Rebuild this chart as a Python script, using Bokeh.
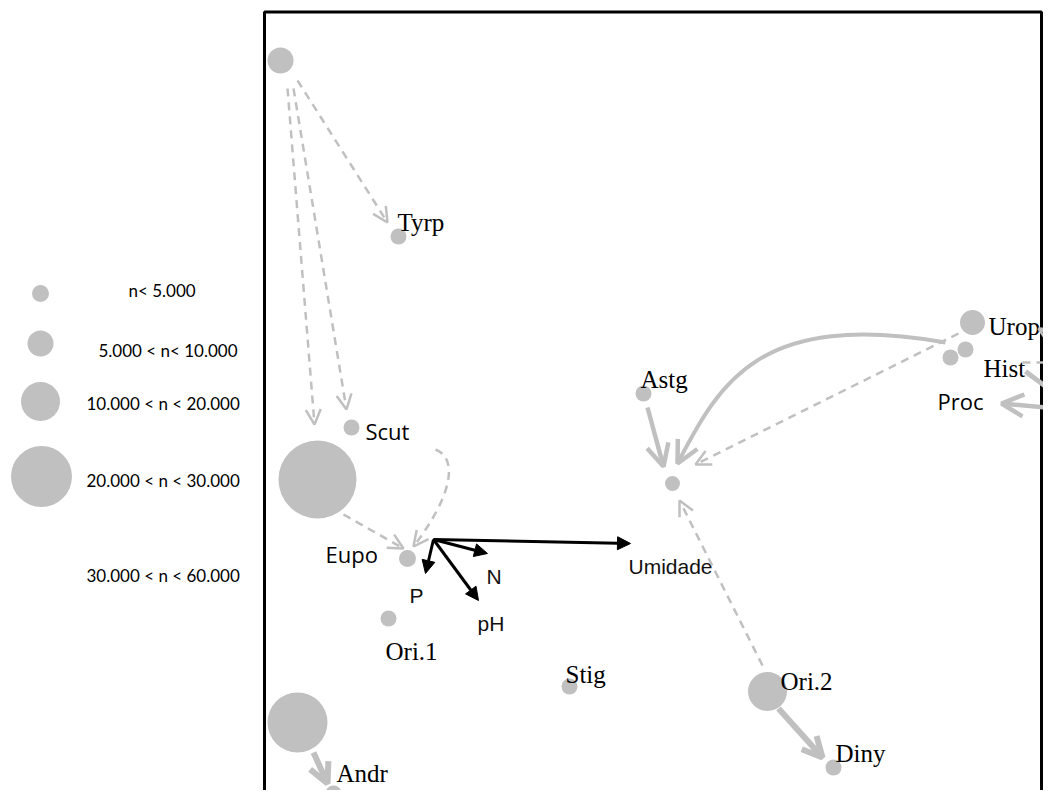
from bokeh.plotting import figure
from bokeh.models import Range1d, Arrow, OpenHead, NormalHead, ColumnDataSource
from bokeh.core.properties import value
from bokeh.embed import file_html
from bokeh.resources import INLINE

GRAY = "#c0c0c0"

# ---- community points (plot units, y grows downward) ----
pt_x = [280, 398, 351, 317, 407, 388, 569, 767, 833, 297, 333, 643, 672, 972, 950, 965]
pt_y = [60, 236, 427, 479, 558, 618, 686, 691, 767, 722, 793, 393, 483, 322, 357, 349]
pt_r = [13, 8, 8, 39, 8.5, 8, 8, 19.5, 8, 30, 8, 8, 7.5, 12.5, 8, 8]

# ---- taxa labels ----
serif_lab = ["Tyrp", "Urop", "Hist", "Astg", "Ori.1", "Stig", "Ori.2", "Diny", "Andr"]
serif_x = [397, 988, 983, 640, 385, 565, 780, 835, 336]
serif_y = [222, 326, 368, 379, 651, 674, 681, 753, 773]
sans_lab = ["Scut", "Eupo", "Proc"]
sans_x = [365, 325, 937]
sans_y = [430, 553, 400]

# ---- environmental vectors ----
env_lab = ["Umidade", "N", "P", "pH"]
env_x0 = [433, 433, 433, 433]
env_y0 = [539, 539, 539, 539]
env_x1 = [630, 487, 425, 478]
env_y1 = [543, 553, 573, 600]
env_lx = [628, 486, 409, 477]
env_ly = [566, 576, 595, 623]

# ---- size legend ----
leg_lab = ["n< 5.000", "5.000 < n< 10.000", "10.000 < n < 20.000",
           "20.000 < n < 30.000", "30.000 < n < 60.000"]
leg_lx = [128, 98, 86, 86, 86]
leg_ly = [290, 350, 403, 480, 575]
leg_cx = [40, 40, 40, 41]
leg_cy = [293, 343, 401, 476]
leg_r = [8.5, 13, 19.5, 30.5]

# ---- transitions (gray arrows) ----
dash_x0 = [297, 287, 293, 343, 762, 958, 1068]
dash_y0 = [80, 88, 88, 514, 665, 333, 345]
dash_x1 = [387, 314, 346, 403, 679, 695, 1038]
dash_y1 = [222, 424, 409, 548, 500, 464, 328]

solid_x0 = [647, 1080]
solid_y0 = [407, 410]
solid_x1 = [663, 1001]
solid_y1 = [466, 403]
thick_x0 = [778, 313]
thick_y0 = [708, 752]
thick_x1 = [822, 327]
thick_y1 = [757, 783]

hist_dash_x = [1022, 1060]
hist_dash_y = [362, 362]
hist_solid_x = [1025, 1060]
hist_solid_y = [371, 397]

# curved transitions: start, control1, control2, end
cd = dict(x0=[435], y0=[449], cx0=[458], cy0=[458], cx1=[452], cy1=[495], x1=[413], y1=[546])
cs = dict(x0=[945], y0=[342], cx0=[760], cy0=[310], cx1=[720], cy1=[380], x1=[677], y1=[463])

W, H = 1043, 790
p = figure(width=W, height=H, x_range=Range1d(0, W), y_range=Range1d(H, 0),
           output_backend="svg", toolbar_location=None, min_border=0,
           background_fill_color="white", border_fill_color="white")
p.axis.visible = False
p.grid.visible = False
p.outline_line_color = None

# frame
p.line([264, 264, 1041, 1041], [900, 11.5, 11.5, 900], line_color="black", line_width=3)

# straight dashed arrows
p.add_layout(Arrow(source=ColumnDataSource(dict(x0=dash_x0, y0=dash_y0, x1=dash_x1, y1=dash_y1)),
                   x_start="x0", y_start="y0", x_end="x1", y_end="y1",
                   line_color=GRAY, line_width=2.5, line_dash="8 6",
                   end=OpenHead(size=15, line_color=GRAY, line_width=2.5)))
p.line(hist_dash_x, hist_dash_y, line_color=GRAY, line_width=2.5, line_dash="8 6")

# solid arrows
p.add_layout(Arrow(source=ColumnDataSource(dict(x0=solid_x0, y0=solid_y0, x1=solid_x1, y1=solid_y1)),
                   x_start="x0", y_start="y0", x_end="x1", y_end="y1",
                   line_color=GRAY, line_width=4.5,
                   end=OpenHead(size=22, line_color=GRAY, line_width=4.5)))
p.add_layout(Arrow(source=ColumnDataSource(dict(x0=thick_x0, y0=thick_y0, x1=thick_x1, y1=thick_y1)),
                   x_start="x0", y_start="y0", x_end="x1", y_end="y1",
                   line_color=GRAY, line_width=6,
                   end=OpenHead(size=20, line_color=GRAY, line_width=6)))
p.line(hist_solid_x, hist_solid_y, line_color=GRAY, line_width=5)

# curved arrows
p.bezier(source=ColumnDataSource(cd), x0="x0", y0="y0", x1="x1", y1="y1",
         cx0="cx0", cy0="cy0", cx1="cx1", cy1="cy1",
         line_color=GRAY, line_width=2.5, line_dash="8 6")
p.add_layout(Arrow(x_start=cd["cx1"][0], y_start=cd["cy1"][0], x_end=cd["x1"][0], y_end=cd["y1"][0],
                   line_alpha=0, end=OpenHead(size=15, line_color=GRAY, line_width=2.5)))
p.bezier(source=ColumnDataSource(cs), x0="x0", y0="y0", x1="x1", y1="y1",
         cx0="cx0", cy0="cy0", cx1="cx1", cy1="cy1",
         line_color=GRAY, line_width=4)
p.add_layout(Arrow(x_start=cs["cx1"][0], y_start=cs["cy1"][0], x_end=cs["x1"][0], y_end=cs["y1"][0],
                   line_alpha=0, end=OpenHead(size=22, line_color=GRAY, line_width=4.5)))

# points
p.scatter(pt_x, pt_y, size=[2 * r for r in pt_r], fill_color=GRAY, line_color=None)
p.scatter(leg_cx, leg_cy, size=[2 * r for r in leg_r], fill_color=GRAY, line_color=None)

# environmental vectors
p.add_layout(Arrow(source=ColumnDataSource(dict(x0=env_x0, y0=env_y0, x1=env_x1, y1=env_y1)),
                   x_start="x0", y_start="y0", x_end="x1", y_end="y1",
                   line_color="black", line_width=3,
                   end=NormalHead(size=13, fill_color="black", line_color="black", line_width=1)))

# labels
p.text(serif_x, serif_y, text=serif_lab, text_font=value("Liberation Serif"),
       text_font_size="25px", text_baseline="alphabetic", text_align="left", text_color="black")
p.text(sans_x, sans_y, text=sans_lab, text_font=value("Open Sans"),
       text_font_size="22px", text_baseline="alphabetic", text_align="left", text_color="black")
p.text(env_lx, env_ly, text=env_lab, text_font=value("Liberation Sans"),
       text_font_size="21px", text_baseline="alphabetic", text_align="left", text_color="#111111")
p.text(leg_lx, leg_ly, text=leg_lab, text_font=value("Lato"),
       text_font_size="17px", text_baseline="middle", text_align="left", text_color="black")

open("out.html", "w").write(file_html(p, INLINE))
